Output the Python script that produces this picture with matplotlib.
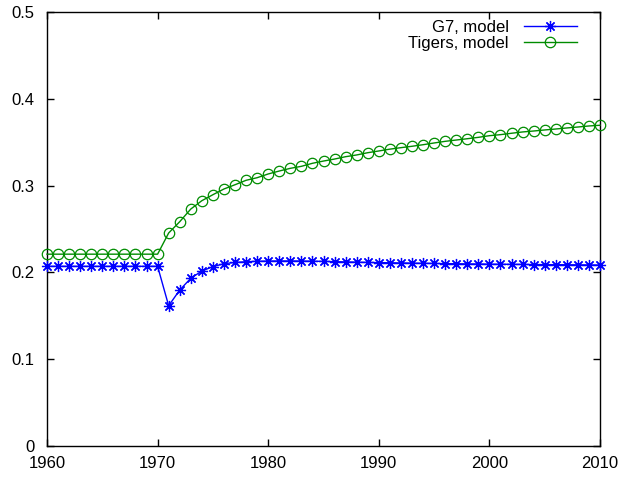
import matplotlib.pyplot as plt
import numpy as np

plt.rcParams['font.family'] = ['Liberation Sans', 'DejaVu Sans']

years = np.arange(1960, 2011)

# G7 model values, 1960-2010
g7 = [0.207] * 11 + [
    0.1616, 0.1797, 0.1932, 0.2016, 0.2066, 0.2100, 0.2115, 0.2123, 0.2128, 0.2131,
    0.2132, 0.2132, 0.2131, 0.2129, 0.2127, 0.2124, 0.2121, 0.2118, 0.2115, 0.2113,
    0.2111, 0.2109, 0.2107, 0.2105, 0.2103, 0.2101, 0.2100, 0.2098, 0.2097, 0.2095,
    0.2094, 0.2093, 0.2092, 0.2091, 0.2090, 0.2089, 0.2088, 0.2087, 0.2086, 0.2085,
]

# Tigers model values, 1960-2010
tigers = [0.221] * 11 + [
    0.2454, 0.2584, 0.2730, 0.2826, 0.2895, 0.2961, 0.3010, 0.3061, 0.3091, 0.3134,
    0.3168, 0.3199, 0.3222, 0.3257, 0.3283, 0.3306, 0.3333, 0.3353, 0.3379, 0.3399,
    0.3420, 0.3437, 0.3453, 0.3471, 0.3491, 0.3510, 0.3525, 0.3540, 0.3556, 0.3575,
    0.3587, 0.3603, 0.3618, 0.3629, 0.3641, 0.3652, 0.3664, 0.3675, 0.3687, 0.3695,
]

xticks = [1960, 1970, 1980, 1990, 2000, 2010]
yticks = [0, 0.1, 0.2, 0.3, 0.4, 0.5]
ytick_labels = ['0', '0.1', '0.2', '0.3', '0.4', '0.5']

fig = plt.figure(figsize=(6.18, 4.78), dpi=100)
ax = fig.add_axes([47 / 618, 32 / 478, 553 / 618, 434 / 478])

ax.plot(years, g7, color='#0000ff', lw=1.0, marker=(8, 2, 0), ms=8,
        mew=0.9, label='G7, model', clip_on=False, zorder=3)
ax.plot(years, tigers, color='#008c00', lw=1.0, marker='o', ms=7.5,
        mfc='none', mew=0.9, label='Tigers, model', clip_on=False, zorder=3)

ax.set_xlim(1960, 2010)
ax.set_ylim(0, 0.5)
ax.set_xticks(xticks)
ax.set_yticks(yticks)
ax.set_yticklabels(ytick_labels)
ax.tick_params(direction='in', top=True, right=True, length=5, width=1,
               labelsize=12)
ax.tick_params(axis='x', pad=7)
ax.tick_params(axis='y', pad=9)
for s in ax.spines.values():
    s.set_linewidth(1.0)

ax.legend(loc='upper right', bbox_to_anchor=(0.972, 1.0), frameon=False,
          markerfirst=False, fontsize=12, handlelength=3.2, handletextpad=0.9,
          labelspacing=0.1, borderaxespad=0.25, borderpad=0.2)

fig.savefig('out.png', dpi=100)
